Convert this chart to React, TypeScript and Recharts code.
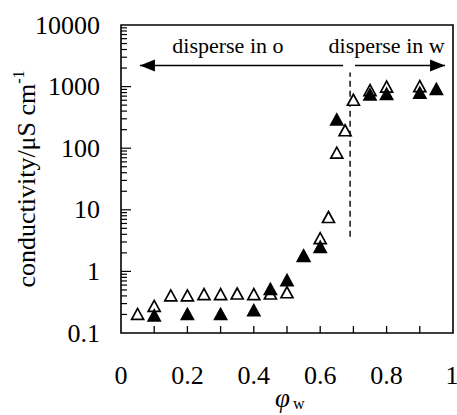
import React from "react";
import {
  ScatterChart,
  Scatter,
  XAxis,
  YAxis,
  ReferenceArea,
  ReferenceLine,
  ReferenceDot,
  Label,
} from "recharts";

// open triangles
const phiOpen = [0.05, 0.1, 0.15, 0.2, 0.25, 0.3, 0.35, 0.4, 0.45, 0.5, 0.55, 0.6, 0.625, 0.65, 0.675, 0.7, 0.75, 0.8, 0.9];
const condOpen = [0.2, 0.27, 0.4, 0.4, 0.42, 0.42, 0.43, 0.42, 0.43, 0.45, 1.78, 3.4, 7.5, 83, 192, 600, 860, 980, 1000];

// filled triangles
const phiFilled = [0.1, 0.2, 0.3, 0.4, 0.45, 0.5, 0.55, 0.6, 0.65, 0.75, 0.8, 0.9, 0.95];
const condFilled = [0.19, 0.2, 0.2, 0.23, 0.51, 0.71, 1.75, 2.46, 287, 730, 750, 780, 900];

const xTicks = [0, 0.1, 0.2, 0.3, 0.4, 0.5, 0.6, 0.7, 0.8, 0.9, 1];
const xLabels = ["0", "0.2", "0.4", "0.6", "0.8", "1"];
const yMajor = [0.1, 1, 10, 100, 1000, 10000];
const yLabels = ["0.1", "1", "10", "100", "1000", "10000"];
const yTicks: number[] = [];
yMajor.slice(0, -1).forEach((d) => {
  for (let k = 1; k < 10; k++) yTicks.push(+(d * k).toPrecision(3));
});
yTicks.push(10000);

// annotations
const arrowY = 2200;
const arrowO = [0.057, 0.669];
const arrowW = [0.705, 0.976];
const dashX = 0.69;
const dashY = [3.65, 1700];
const notes = [
  { text: "disperse in o", x: 0.322, y: 4700 },
  { text: "disperse in w", x: 0.8, y: 4700 },
];

const openData = phiOpen.map((x, i) => ({ x, y: condOpen[i] }));
const filledData = phiFilled.map((x, i) => ({ x, y: condFilled[i] }));

const FONT = '"Liberation Serif", "DejaVu Serif", serif';
const txt = { fontFamily: FONT };

const Tri = (filled: boolean) => (p: any) => {
  const { cx, cy } = p;
  if (cx == null || cy == null) return null;
  return (
    <polygon
      points={`${cx},${cy - 6} ${cx - 6},${cy + 5} ${cx + 6},${cy + 5}`}
      fill={filled ? "#000" : "#fff"}
      stroke="#000"
      strokeWidth={1.7}
    />
  );
};

const XTick = (p: any) => {
  const { x, y, payload } = p;
  const v = payload.value;
  const idx = xTicks.indexOf(v);
  const showLabel = idx % 2 === 0;
  const inner = v > 0 && v < 1;
  return (
    <g>
      {inner && <line x1={x} x2={x} y1={y} y2={y - 7} stroke="#000" strokeWidth={1.3} />}
      {showLabel && (
        <text x={v === 1 ? x - 1 : x} y={y + 42} textAnchor="middle" dominantBaseline="central" fontSize={26} style={txt} fill="#000">
          {xLabels[idx / 2]}
        </text>
      )}
    </g>
  );
};

const YTick = (p: any) => {
  const { x, y, payload } = p;
  const v = payload.value;
  const mi = yMajor.indexOf(v);
  const isMajor = mi >= 0;
  const len = isMajor ? 10 : 6;
  const edge = v === 0.1 || v === 10000;
  return (
    <g>
      {!edge && <line x1={x} x2={x + len} y1={y} y2={y} stroke="#000" strokeWidth={1.2} />}
      {isMajor && (
        <text x={x - 21} y={y} textAnchor="end" dominantBaseline="central" fontSize={26} style={txt} fill="#000">
          {yLabels[mi]}
        </text>
      )}
    </g>
  );
};

const arrowShape = (dir: "left" | "right") => (p: any) => {
  const { x1, y1, x2, y2 } = p;
  const left = Math.min(x1, x2);
  const right = Math.max(x1, x2);
  const y = (y1 + y2) / 2;
  const head =
    dir === "left"
      ? `${left},${y} ${left + 15},${y - 6} ${left + 15},${y + 6}`
      : `${right},${y} ${right - 15},${y - 6} ${right - 15},${y + 6}`;
  return (
    <g>
      <line x1={left} x2={right} y1={y} y2={y} stroke="#000" strokeWidth={1.5} />
      <polygon points={head} fill="#000" />
    </g>
  );
};

const noteShape = (text: string) => (p: any) => (
  <text x={p.cx} y={p.cy} textAnchor="middle" dominantBaseline="central" fontSize={22} style={txt} fill="#000">
    {text}
  </text>
);

const YTitle = (p: any) => {
  const vb = p.viewBox;
  const x = vb.x + 35;
  const y = vb.y + vb.height / 2;
  return (
    <text
      x={x}
      y={y}
      transform={`rotate(-90, ${x}, ${y})`}
      textAnchor="middle"
      fontSize={26}
      style={txt}
      fill="#000"
    >
      conductivity/μS cm
      <tspan dy={-11} fontSize={16}>-1</tspan>
    </text>
  );
};

const XTitle = (p: any) => {
  const vb = p.viewBox;
  return (
    <text x={vb.x + 154} y={vb.y + 74} style={txt} fill="#000">
      <tspan fontSize={27} fontStyle="italic">φ</tspan>
      <tspan fontSize={16} dy={2} dx={3}>w</tspan>
    </text>
  );
};

export default function App() {
  return (
    <div style={{ position: "absolute", left: 0, top: 0, background: "#fff" }}>
      <ScatterChart width={457} height={415} margin={{ top: 25, right: 4, bottom: 0, left: 0 }}>
        <XAxis
          dataKey="x"
          type="number"
          domain={[0, 1]}
          ticks={xTicks}
          interval={0}
          height={82}
          axisLine={false}
          tickLine={false}
          tickSize={0}
          tickMargin={0}
          tick={<XTick />}
        >
          <Label content={<XTitle />} />
        </XAxis>
        <YAxis
          dataKey="y"
          type="number"
          scale="log"
          domain={[0.1, 10000]}
          allowDataOverflow
          ticks={yTicks}
          interval={0}
          width={121}
          axisLine={false}
          tickLine={false}
          tickSize={0}
          tickMargin={0}
          tick={<YTick />}
        >
          <Label content={<YTitle />} />
        </YAxis>
        <ReferenceArea x1={0} x2={1} y1={0.1} y2={10000} fill="none" stroke="#000" strokeWidth={1.6} />
        <ReferenceLine
          segment={[{ x: arrowO[0], y: arrowY }, { x: arrowO[1], y: arrowY }]}
          shape={arrowShape("left")}
        />
        <ReferenceLine
          segment={[{ x: arrowW[0], y: arrowY }, { x: arrowW[1], y: arrowY }]}
          shape={arrowShape("right")}
        />
        <ReferenceLine
          segment={[{ x: dashX, y: dashY[0] }, { x: dashX, y: dashY[1] }]}
          stroke="#000"
          strokeWidth={1.4}
          strokeDasharray="6 4"
        />
        {notes.map((n) => (
          <ReferenceDot key={n.text} x={n.x} y={n.y} r={0} shape={noteShape(n.text)} />
        ))}
        <Scatter data={openData} shape={Tri(false)} isAnimationActive={false} />
        <Scatter data={filledData} shape={Tri(true)} isAnimationActive={false} />
      </ScatterChart>
    </div>
  );
}
